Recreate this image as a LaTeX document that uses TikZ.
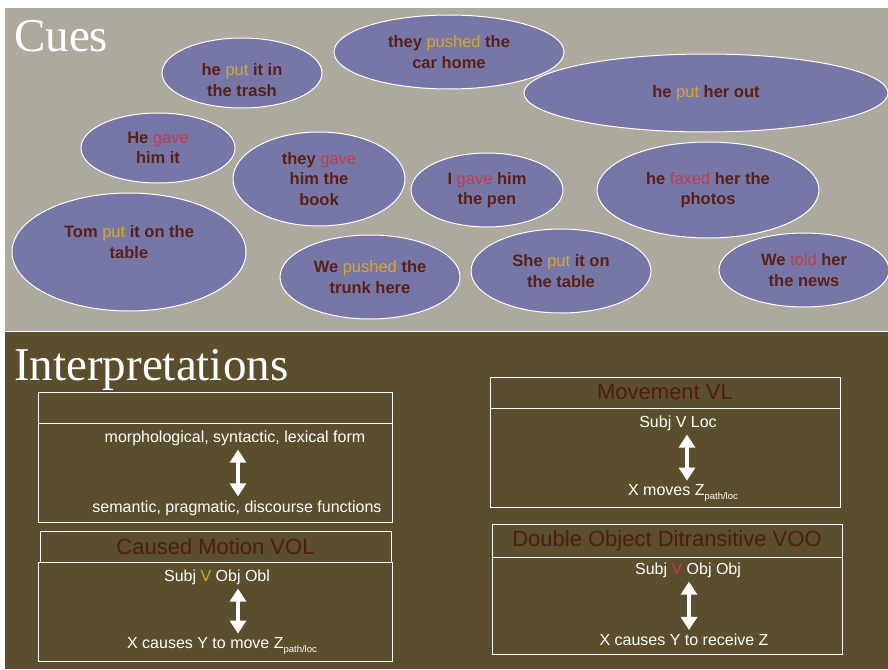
\documentclass[tikz,border=0pt]{standalone}
\usepackage{fontspec}
\setmainfont{Liberation Serif}
\setsansfont{Liberation Sans}
\usepackage{xcolor}
\definecolor{cuegray}{HTML}{ADA99F}
\definecolor{interp}{HTML}{5A4E2C}
\definecolor{cuefill}{HTML}{7677A6}
\definecolor{cuetext}{HTML}{5A1F16}
\definecolor{verbput}{HTML}{D6A62C}
\definecolor{verbgive}{HTML}{C23A50}
\definecolor{headtext}{HTML}{4F1D14}
\usepackage{tikz}
\usetikzlibrary{shapes.geometric,arrows.meta,positioning}
\newcommand{\vput}[1]{{\mdseries\color{verbput}#1}}
\newcommand{\vgive}[1]{{\mdseries\color{verbgive}#1}}
\tikzstyle{cue} = [ellipse, draw=white, fill=cuefill, line width=1pt, inner sep=0pt,
align=center, text=cuetext, font=\sffamily\bfseries\fontsize{16.5}{20.5}\selectfont]
\tikzstyle{cuetxt} = [align=center, text=cuetext, inner sep=0pt,
font=\sffamily\bfseries\fontsize{16.5}{20.5}\selectfont]
\tikzstyle{head} = [rectangle, draw=white, line width=1pt, fill=interp, inner sep=0pt,
text=headtext, font=\sffamily\fontsize{22}{24}\selectfont]
\tikzstyle{body} = [rectangle, draw=white, line width=1pt, fill=interp, inner sep=0pt]
\tikzstyle{form} = [text=white, inner sep=1pt, font=\sffamily\fontsize{16}{18}\selectfont]
\tikzstyle{title} = [text=white, anchor=base west, inner sep=0pt, font=\fontsize{47}{47}\selectfont]
\tikzstyle{link} = [draw=white, line width=4pt, shorten <=3pt, shorten >=3pt,
{Triangle[width=16pt,length=13pt]}-{Triangle[width=16pt,length=13pt]}]
\newcommand{\pathloc}{\raisebox{-3.5pt}{\fontsize{9.5}{10}\selectfont path/loc}}

\begin{document}
\begin{tikzpicture}[x=1pt, y=-1pt]
    \useasboundingbox (0,0) rectangle (888,669);
    \fill[white] (0,0) rectangle (888,669);
    % Panels
    \fill[cuegray] (5,8) rectangle (888,331);
    \fill[interp] (5,332) rectangle (888,669);
    \node[title] (cues) at (14,52) {Cues};
    \node[title] (interpretations) at (14,380) {Interpretations};

    % Cues
    \node [cue, minimum width=160pt, minimum height=70pt] (cueTrash) at (242,73) {};
    \node [cuetxt] (cueTrashText) at (242,80) {he \vput{put} it in\\the trash};
    \node [cue, minimum width=230pt, minimum height=74pt] (cuePushedCar) at (449,52) {they \vput{pushed} the\\car home};
    \node [cue, minimum width=364pt, minimum height=78pt] (cuePutOut) at (706,93) {he \vput{put} her out};
    \node [cue, minimum width=154pt, minimum height=70pt] (cueGaveIt) at (158,148) {He \vgive{gave}\\him it};
    \node [cue, minimum width=172pt, minimum height=94pt] (cueGaveBook) at (319,179) {they \vgive{gave}\\him the\\book};
    \node [cue, minimum width=152pt, minimum height=74pt] (cueGavePen) at (487,190) {I \vgive{gave} him\\the pen};
    \node [cue, minimum width=222pt, minimum height=96pt] (cueFaxed) at (708,190) {he \vgive{faxed} her the\\photos};
    \node [cue, minimum width=234pt, minimum height=118pt] (cueTom) at (129,252) {};
    \node [cuetxt] (cueTomText) at (129,242) {Tom \vput{put} it on the\\table};
    \node [cue, minimum width=180pt, minimum height=84pt] (cuePushedTrunk) at (370,277) {We \vput{pushed} the\\trunk here};
    \node [cue, minimum width=180pt, minimum height=84pt] (cuePutTable) at (561,271) {She \vput{put} it on\\the table};
    \node [cue, minimum width=170pt, minimum height=74pt] (cueTold) at (804,270) {We \vgive{told} her\\the news};

    % Interpretations: general pairing
    \node [head, minimum width=354pt, minimum height=31pt] (genHead) at (215,407.5) {};
    \node [body, minimum width=354pt, minimum height=99pt] (genBody) at (215,472.5) {};
    \node [form] (genForm) at (235,438) {morphological, syntactic, lexical form};
    \node [form] (genFunc) at (237,508) {semantic, pragmatic, discourse functions};
    \draw [link] ([xshift=3pt]genForm.south) -- ([xshift=3pt]genForm.south |- genFunc.north);

    % Caused motion
    \node [head, minimum width=351pt, minimum height=31pt] (cmHead) at (215.5,546.5) {Caused Motion VOL};
    \node [body, minimum width=354pt, minimum height=99pt] (cmBody) at (215,611.5) {};
    \node [form] (cmForm) at (217,577) {Subj {\color{verbput}V} Obj Obl};
    \node [form] (cmFunc) at (222,646) {X causes Y to move Z\pathloc};
    \draw [link] ([xshift=21pt]cmForm.south) -- ([xshift=21pt]cmForm.south |- cmFunc.north);

    % Movement
    \node [head, minimum width=350pt, minimum height=31pt] (mvHead) at (665,392.5) {Movement VL};
    \node [body, minimum width=350pt, minimum height=99pt] (mvBody) at (665,457.5) {};
    \node [form] (mvForm) at (678,423) {Subj V Loc};
    \node [form] (mvFunc) at (683,493) {X moves Z\pathloc};
    \draw [link] ([xshift=9pt]mvForm.south) -- ([xshift=9pt]mvForm.south |- mvFunc.north);

    % Double object
    \node [head, minimum width=350pt, minimum height=33pt] (doHead) at (667,540.5) {Double Object Ditransitive VOO};
    \node [body, minimum width=350pt, minimum height=97pt] (doBody) at (667,605.5) {};
    \node [form] (doForm) at (688,570) {Subj {\color{verbgive}V} Obj Obj};
    \node [form] (doFunc) at (684,640) {X causes Y to receive Z};
    \draw [link] ([xshift=1pt]doForm.south) -- ([xshift=1pt]doForm.south |- doFunc.north);

\end{tikzpicture}
\end{document}
